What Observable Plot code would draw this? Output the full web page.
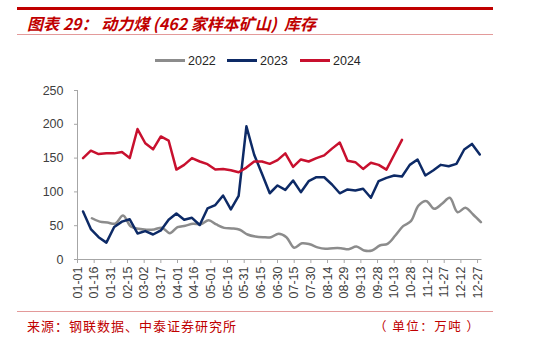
<!DOCTYPE html>
<html>
<head>
<meta charset="utf-8">
<script src="https://cdn.jsdelivr.net/npm/d3@7"></script>
<script src="https://cdn.jsdelivr.net/npm/@observablehq/plot@0.6"></script>
<style>
  html, body { margin: 0; padding: 0; background: #fff; }
  #wrap { position: relative; width: 538px; height: 339px; overflow: hidden; font-family: "Liberation Sans", Arial, sans-serif; }
  .rule { position: absolute; left: 17px; width: 476px; }
  #title { position: absolute; left: 27px; top: 14px; font-family: "Noto Sans CJK SC", sans-serif; font-size: 16px; font-weight: bold; font-style: italic; color: #c00000; white-space: pre; line-height: 18px; }
  .leg { position: absolute; top: 54px; height: 14px; font-size: 12.5px; color: #262626; line-height: 14px; white-space: nowrap; }
  .leg i { display: inline-block; width: 30px; height: 2.5px; vertical-align: middle; margin-right: 3px; position: relative; top: -1px; }
  #src { position: absolute; left: 27px; top: 318px; font-family: "Noto Sans CJK SC", sans-serif; font-size: 13px; color: #c00000; letter-spacing: 1px; white-space: nowrap; line-height: 16px; }
  #unit { position: absolute; left: 374px; top: 318px; font-family: "Noto Sans CJK SC", sans-serif; font-size: 12.5px; color: #c00000; letter-spacing: 1.5px; white-space: pre; line-height: 16px; }
  #chart { position: absolute; left: 0; top: 80px; }
</style>
</head>
<body>
<div id="wrap">
  <div class="rule" style="top:7px;height:2.5px;background:#c00000;"></div>
  <div id="title">图表 29： 动力煤 (462 家样本矿山)  库存</div>
  <div class="rule" style="top:34px;height:1px;background:#e39a9a;"></div>
  <div id="legend"></div>
  <div id="chart"></div>
  <div class="rule" style="top:311px;height:1px;background:#e39a9a;"></div>
  <div id="src">来源：钢联数据、中泰证券研究所</div>
  <div id="unit">（ 单位：万吨 ）</div>
</div>
<script>
// ---- data ----
const seriesNames = ["2022", "2023", "2024"];
const seriesColors = ["#8c8c8c", "#0d2a66", "#c8102e"];

const tickLabels = ["01-01","01-16","01-31","02-15","03-02","03-17","04-01","04-16","05-01","05-16","05-31","06-15","06-30","07-15","07-30","08-14","08-29","09-13","09-28","10-13","10-28","11-12","11-27","12-12","12-27"];
const yTicks = [0, 50, 100, 150, 200, 250];

const dates2022 = ["01-14","01-21","01-28","02-04","02-11","02-18","02-25","03-04","03-11","03-18","03-25","04-01","04-08","04-15","04-22","04-29","05-06","05-13","05-20","05-27","06-03","06-10","06-17","06-24","07-01","07-08","07-15","07-22","07-29","08-05","08-12","08-19","08-26","09-02","09-09","09-16","09-23","09-30","10-07","10-14","10-21","10-28","11-04","11-11","11-18","11-25","12-02","12-09","12-16","12-23","12-30"];
const values2022 = [61,56,54.7,53,65,48.8,45.4,44,44.5,47,39,47.8,50,53,52,58,51.8,46.8,46,44,37,34,33,33,38,33,17.5,24,22.5,18,15.8,16.8,16.8,15.3,19.2,13.3,13.3,20.7,23.2,35.5,49.3,56.7,80,86.3,75,82.4,91.3,70,76.5,66.6,55.2];

const dates2023 = ["01-06","01-13","01-20","01-27","02-03","02-10","02-17","02-24","03-03","03-10","03-17","03-24","03-31","04-07","04-14","04-21","04-28","05-05","05-12","05-19","05-26","06-02","06-09","06-16","06-23","06-30","07-07","07-14","07-21","07-28","08-04","08-11","08-18","08-25","09-01","09-08","09-15","09-22","09-29","10-06","10-13","10-20","10-27","11-03","11-10","11-17","11-24","12-01","12-08","12-15","12-22","12-29"];
const values2023 = [71,45,33,25,48,56,59.5,38.5,42,37,43,58.7,68,58.7,61.7,51,75.5,80.5,94.7,74,94,197,155,126.8,98,109.5,103,116.9,99.6,115.8,121.7,121.7,111,98,103.6,102,104.6,91.3,116,120.8,124.3,122.8,140,148,124.3,131.7,140,138,141.5,162.7,171,155.3];

const dates2024 = ["01-06","01-13","01-20","01-27","02-03","02-10","02-17","02-24","03-03","03-10","03-17","03-24","03-31","04-07","04-14","04-21","04-28","05-05","05-12","05-19","05-26","06-02","06-09","06-16","06-23","06-30","07-07","07-14","07-21","07-28","08-04","08-11","08-18","08-25","09-01","09-08","09-15","09-22","09-29","10-06","10-13","10-20"];
const values2024 = [150,161,156,157,157,159,150,193,172,163,182,176,133,140,150,145,141,133,134,132,129,136,145,145,141.5,147,157,137,148,145,150,154,164,173,146,144,134,143,140,133,155,177];

// ---- build ----
const parse = s => new Date(`2023-${s}T00:00:00Z`);
const toRows = (dates, values) => dates.map((d, i) => ({date: parse(d), value: values[i]}));
const rows = [toRows(dates2022, values2022), toRows(dates2023, values2023), toRows(dates2024, values2024)];

// legend
const legendLeft = [155, 227, 300];
const legend = document.getElementById("legend");
seriesNames.forEach((n, i) => {
  const el = document.createElement("div");
  el.className = "leg";
  el.style.left = legendLeft[i] + "px";
  el.innerHTML = `<i style="background:${seriesColors[i]}"></i>${n}`;
  legend.appendChild(el);
});

const axisColor = "#a6a6a6";
const chart = Plot.plot({
  width: 538,
  height: 220,
  marginLeft: 77,
  marginRight: 56.5,
  marginTop: 10,
  marginBottom: 41,
  x: {type: "utc", domain: [parse("01-01"), parse("12-31")]},
  y: {domain: [0, 250]},
  style: {fontFamily: "'Liberation Sans', Arial, sans-serif", fontSize: "12.5px", color: "#404040", background: "transparent", overflow: "visible"},
  marks: [
    Plot.axisY({ticks: yTicks, tickSize: 3, tickPadding: 11, label: null, stroke: axisColor}),
    Plot.axisX({ticks: tickLabels.map(parse), tickFormat: d3.utcFormat("%m-%d"), tickRotate: -90, tickSize: 4, tickPadding: 3, label: null, stroke: axisColor}),
    Plot.ruleY([0], {stroke: axisColor, strokeWidth: 1}),
    Plot.ruleX([parse("01-01")], {stroke: axisColor, strokeWidth: 1}),
    Plot.line(rows[0], {x: "date", y: "value", stroke: seriesColors[0], strokeWidth: 2.5, curve: "catmull-rom"}),
    Plot.line(rows[1], {x: "date", y: "value", stroke: seriesColors[1], strokeWidth: 2.5}),
    Plot.line(rows[2], {x: "date", y: "value", stroke: seriesColors[2], strokeWidth: 2.5})
  ]
});
document.getElementById("chart").appendChild(chart);
</script>
</body>
</html>
